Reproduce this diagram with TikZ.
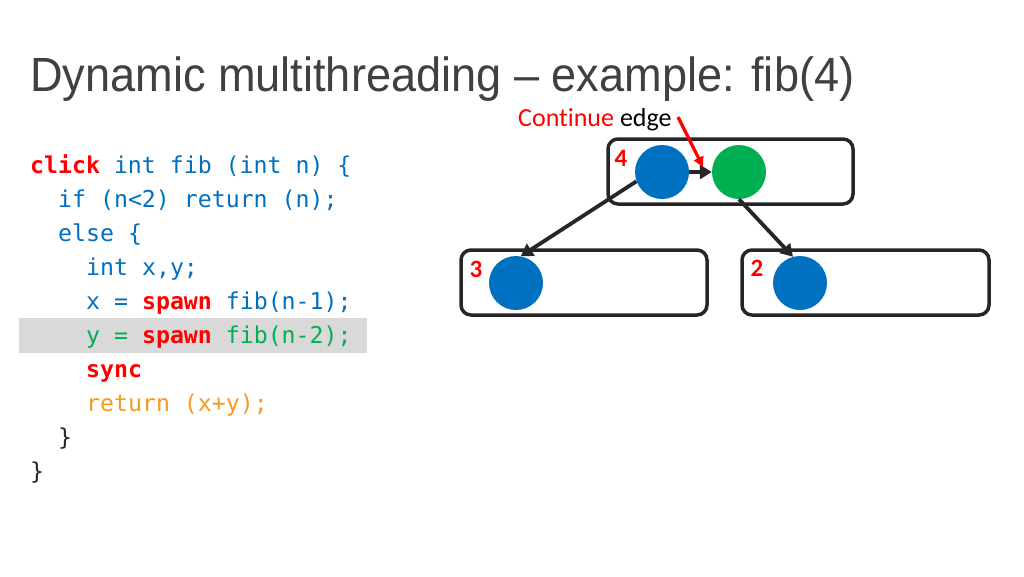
\documentclass[tikz,border=0pt]{standalone}
\usepackage{fontspec}
\setmainfont{Liberation Sans}
\newfontfamily\codefont{DejaVu Sans Mono}
\newfontfamily\calfont[Ligatures=NoCommon]{Carlito}
\usetikzlibrary{arrows.meta}
\definecolor{cblue}{HTML}{0070C0}
\definecolor{cred}{HTML}{FF0000}
\definecolor{cgreen}{HTML}{00B050}
\definecolor{corange}{HTML}{F59A23}
\definecolor{ctitle}{HTML}{404040}
\definecolor{hl}{HTML}{D9D9D9}
\definecolor{dk}{HTML}{262626}
\begin{document}
\begin{tikzpicture}[x=1pt,y=-1pt,
  codeline/.style={anchor=base west,inner sep=0pt,font=\codefont\fontsize{23.2}{27}\selectfont,text=cblue},
  frame/.style={draw=dk,line width=3.5pt,rounded corners=10pt},
  dot/.style={circle,minimum size=54pt,inner sep=0pt},
  num/.style={text=cred,font=\calfont\fontsize{25}{28}\selectfont\bfseries,inner sep=0pt},
  edge/.style={draw=dk,line width=3.8pt,-{Triangle[length=12pt,width=14pt]}}]
\useasboundingbox (0,0) rectangle (1024,576);
\fill[white] (0,0) rectangle (1024,576);
% title
\node[anchor=base west,inner sep=0pt,text=ctitle,font=\fontsize{48}{54}\selectfont] (title) at (30,91) {\scalebox{0.94}[1]{Dynamic multithreading -- example: fib(4)}};
% highlight
\fill[hl] (19,318) rectangle (367,353);
% code
\node[codeline] (l1) at (30,173) {\textcolor{cred}{\bfseries click} int fib (int n) \{};
\node[codeline] (l2) at (58,207) {if (n<2) return (n);};
\node[codeline] (l3) at (58,241) {else \{};
\node[codeline] (l4) at (86,275) {int x,y;};
\node[codeline] (l5) at (86,309) {x = \textcolor{cred}{\bfseries spawn} fib(n-1);};
\node[codeline,text=cgreen] (l6) at (86,343) {y = \textcolor{cred}{\bfseries spawn} fib(n-2);};
\node[codeline,text=cred] (l7) at (86,377) {\bfseries sync};
\node[codeline,text=corange] (l8) at (86,411) {return (x+y);};
\node[codeline,text=dk] (l9) at (58,445) {\}};
\node[codeline,text=dk] (l10) at (30,479) {\}};
% boxes
\draw[frame] (608,139) rectangle (853,204);
\draw[frame] (461,250) rectangle (707,315);
\draw[frame] (742,250) rectangle (989,315);
\node[num] (n4) at (621,158) {4};
\node[num] (n3) at (476,269) {3};
\node[num] (n2) at (757,268) {2};
\node[dot,fill=cblue] (a) at (662,172) {};
\node[dot,fill=cgreen] (b) at (739,172) {};
\node[dot,fill=cblue] (c) at (516,283) {};
\node[dot,fill=cblue] (d) at (800,283) {};
\draw[edge] (a) -- (b);
\draw[edge] (a.200) -- (c.80);
\draw[edge] (b.270) -- (d.105);
% continue label
\node[anchor=base west,inner sep=0pt,font=\calfont\fontsize{26}{30}\selectfont] (cl) at (518,126) {\textcolor{cred}{Continue} edge};
\coordinate (cs) at (678,117);
\coordinate (ce) at (703,167);
\draw[cred,line width=3.2pt,-{Triangle[length=10pt,width=10pt]}] (cs) -- (ce);
\end{tikzpicture}
\end{document}
